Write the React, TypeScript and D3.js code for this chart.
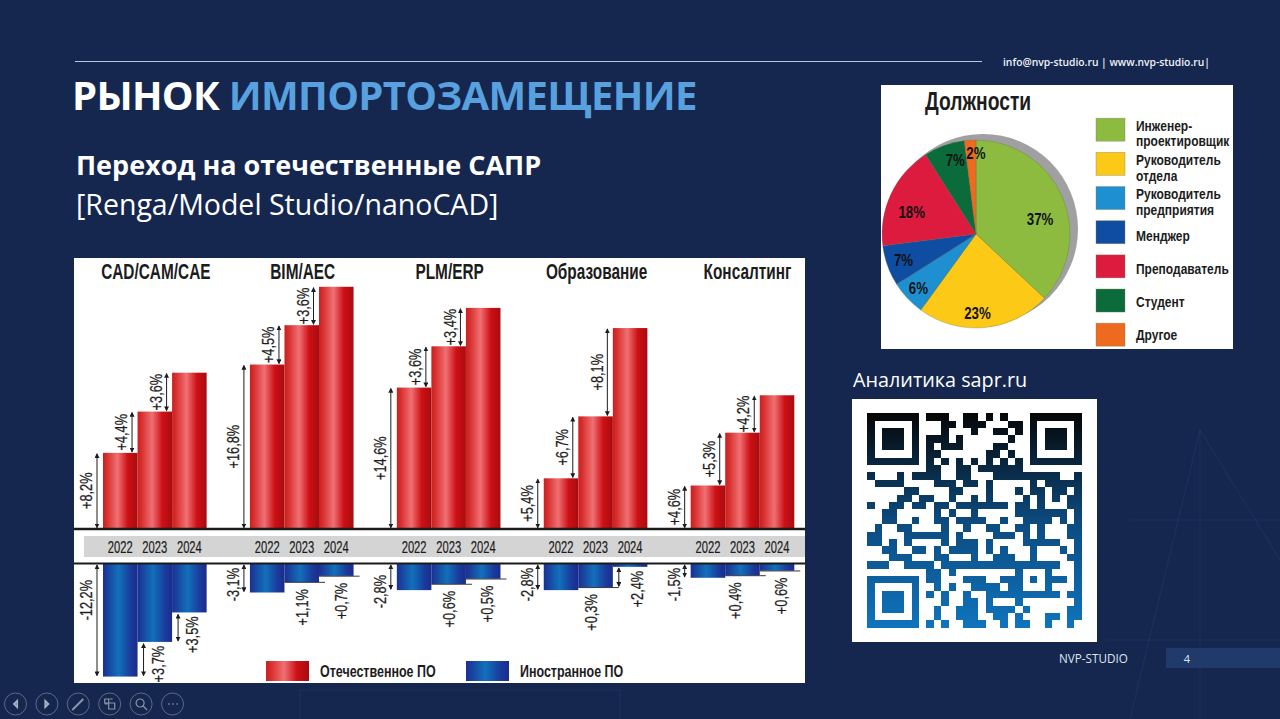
import { useEffect, useRef } from "react";
import * as d3 from "d3";

const categories = ["CAD/CAM/CAE", "BIM/AEC", "PLM/ERP", "Образование", "Консалтинг"];
const years = ["2022", "2023", "2024"];

// bar heights, % per year
const domesticValues = [
  [7.9, 12.2, 16.25],
  [17.1, 21.2, 25.2],
  [14.7, 19.0, 23.0],
  [5.25, 11.7, 20.9],
  [4.5, 10.0, 13.9],
];
const foreignValues = [
  [11.85, 8.2, 5.1],
  [3.0, 1.9, 1.25],
  [2.75, 2.1, 1.55],
  [2.75, 2.45, 0.3],
  [1.45, 1.2, 0.7],
];

const domesticLabels = [
  ["+8,2%", "+4,4%", "+3,6%"],
  ["+16,8%", "+4,5%", "+3,6%"],
  ["+14,6%", "+3,6%", "+3,4%"],
  ["+5,4%", "+6,7%", "+8,1%"],
  ["+4,6%", "+5,3%", "+4,2%"],
];
const foreignLabels = [
  ["-12,2%", "+3,7%", "+3,5%"],
  ["-3,1%", "+1,1%", "+0,7%"],
  ["-2,8%", "+0,6%", "+0,5%"],
  ["-2,8%", "+0,3%", "+2,4%"],
  ["-1,5%", "+0,4%", "+0,6%"],
];
// which foreign deltas get a double arrow, the rest get a hairline
const foreignArrows = [
  [true, true, true],
  [true, false, false],
  [true, false, false],
  [true, false, true],
  [true, false, false],
];

const roles = [
  ["Инженер-", "проектировщик"],
  ["Руководитель", "отдела"],
  ["Руководитель", "предприятия"],
  ["Менджер"],
  ["Преподаватель"],
  ["Студент"],
  ["Другое"],
];
const roleShares = [37, 23, 6, 7, 18, 7, 2];
const roleColors = ["#8cbb3f", "#fcc917", "#1e8fd0", "#0f4da2", "#dc1b3e", "#0b6b3a", "#ee6a1e"];

// dark runs [from, to] of the QR code per row, finder patterns are added in code
const qrRuns: number[][][] = [
  [[8, 10], [13, 14], [16, 16], [18, 18]],
  [[10, 11], [13, 15], [19, 20]],
  [[10, 10], [14, 14], [17, 18], [20, 20]],
  [[8, 10], [12, 12], [19, 19]],
  [[8, 8], [10, 12], [17, 18]],
  [[8, 9], [16, 17], [19, 19]],
  [[8, 8], [10, 10], [12, 12], [14, 14], [16, 16], [18, 18], [20, 20]],
  [[8, 9], [12, 13], [15, 20]],
  [[0, 0], [4, 4], [6, 9], [12, 13], [17, 25], [28, 28]],
  [[1, 4], [9, 11], [13, 14], [16, 16], [22, 22], [24, 28]],
  [[5, 6], [11, 12], [16, 16], [20, 20], [22, 23], [25, 26], [28, 28]],
  [[4, 5], [7, 8], [11, 11], [14, 14], [16, 16], [21, 21], [23, 23], [25, 25], [27, 28]],
  [[0, 0], [3, 4], [6, 7], [9, 10], [12, 18], [20, 21], [23, 23], [27, 28]],
  [[2, 3], [9, 9], [11, 11], [14, 14], [20, 26], [28, 28]],
  [[2, 3], [6, 6], [9, 10], [12, 15], [18, 18], [21, 24], [26, 26], [28, 28]],
  [[1, 1], [4, 5], [10, 10], [13, 13], [16, 17], [20, 21], [23, 23], [27, 28]],
  [[0, 1], [5, 10], [12, 12], [17, 19], [21, 21], [23, 23], [27, 28]],
  [[0, 1], [3, 3], [5, 5], [10, 10], [12, 14], [16, 16], [21, 25], [28, 28]],
  [[2, 3], [6, 7], [9, 9], [11, 14], [16, 16], [18, 18], [22, 22], [26, 26], [28, 28]],
  [[3, 5], [9, 10], [14, 14], [17, 19], [22, 22], [27, 28]],
  [[0, 2], [5, 8], [10, 25], [28, 28]],
  [[8, 9], [11, 11], [20, 20], [24, 24], [28, 28]],
  [[8, 9], [13, 15], [18, 20], [22, 22], [24, 26], [28, 28]],
  [[9, 9], [11, 11], [14, 17], [19, 20], [24, 24], [28, 28]],
  [[8, 8], [10, 10], [13, 13], [16, 25], [27, 28]],
  [[10, 10], [13, 14], [16, 16], [20, 20], [28, 28]],
  [[9, 9], [12, 14], [16, 19], [21, 21], [27, 28]],
  [[9, 9], [12, 14], [17, 18], [20, 20], [24, 25], [27, 28]],
  [[8, 8], [10, 10], [13, 15], [18, 18], [20, 21], [24, 24], [27, 27]],
];

const NARROW = "'Liberation Sans', sans-serif";
const SANS = "'Open Sans', sans-serif";
const INK = "#1c1c1c";

type Sel = d3.Selection<any, unknown, null, undefined>;

// no condensed face is installed, so squeeze a regular one horizontally
const squeezed = (parent: Sel, x: number, y: number, label: string, size: number, sx: number, bold = true, anchor = "start", rotate = false) =>
  parent.append("text")
    .attr("transform", `translate(${x},${y})${rotate ? " rotate(-90)" : ""} scale(${sx},1)`)
    .attr("text-anchor", anchor)
    .attr("dominant-baseline", "central")
    .attr("font-family", NARROW)
    .attr("font-size", size)
    .attr("font-weight", bold ? 700 : 400)
    .attr("fill", INK)
    .text(label);

const App = () => {
  const svgRef = useRef<SVGSVGElement>(null);

  useEffect(() => {
    if (!svgRef.current) return;
    document.body.style.margin = "0";
    document.body.style.background = "#14264f";

    const svg = d3.select(svgRef.current) as unknown as Sel;
    svg.selectAll("*").remove();
    const defs = svg.append("defs");

    const barGradient = (id: string, stops: [number, string][]) => {
      const g = defs.append("linearGradient").attr("id", id).attr("x1", "0%").attr("x2", "100%").attr("y1", "0%").attr("y2", "0%");
      stops.forEach(([o, c]) => g.append("stop").attr("offset", `${o}%`).attr("stop-color", c));
    };
    barGradient("red", [[0, "#c9201f"], [12, "#d8302f"], [42, "#f07073"], [72, "#cc1015"], [100, "#a80c10"]]);
    barGradient("blue", [[0, "#1b2f92"], [45, "#1270bb"], [80, "#1a3b9c"], [100, "#1a2c8c"]]);

    defs.append("marker").attr("id", "tip").attr("viewBox", "0 0 6 6").attr("refX", 5).attr("refY", 3)
      .attr("markerWidth", 5).attr("markerHeight", 5).attr("markerUnits", "userSpaceOnUse")
      .attr("orient", "auto-start-reverse")
      .append("path").attr("d", "M0,0L6,3L0,6Z").attr("fill", INK);

    const qrGrad = defs.append("linearGradient").attr("id", "qr").attr("gradientUnits", "userSpaceOnUse")
      .attr("x1", 0).attr("x2", 0).attr("y1", 413).attr("y2", 628);
    qrGrad.append("stop").attr("offset", "0%").attr("stop-color", "#060606");
    qrGrad.append("stop").attr("offset", "50%").attr("stop-color", "#0c4a7e");
    qrGrad.append("stop").attr("offset", "100%").attr("stop-color", "#0f74bd");

    // slide background
    svg.append("rect").attr("width", 1280).attr("height", 719).attr("fill", "#15274f");
    const deco = svg.append("g").attr("fill", "none").attr("stroke", "#3a5a90").attr("stroke-opacity", 0.14).attr("stroke-width", 1.5);
    ["M1130,719L1200,430L1280,560", "M1200,430L1200,719", "M1105,640L1280,640", "M1130,520L1280,520", "M300,719L300,690L620,690L620,719"]
      .forEach((d) => deco.append("path").attr("d", d));

    // header
    svg.append("line").attr("x1", 75).attr("x2", 982).attr("y1", 61.5).attr("y2", 61.5).attr("stroke", "#b9c7e2").attr("stroke-width", 1);
    svg.append("text").attr("x", 1003).attr("y", 66).attr("fill", "#eef2f8").attr("font-family", SANS).attr("font-size", 10.3).attr("font-weight", 600)
      .text("info@nvp-studio.ru | www.nvp-studio.ru|");

    const title = svg.append("text").attr("x", 72).attr("y", 109.5).attr("font-family", SANS).attr("font-size", 40).attr("font-weight", 700).attr("letter-spacing", -0.7);
    title.append("tspan").attr("fill", "#ffffff").text("РЫНОК ");
    title.append("tspan").attr("fill", "#58a0de").text("ИМПОРТОЗАМЕЩЕНИЕ");

    svg.append("text").attr("x", 76).attr("y", 175).attr("fill", "#fff").attr("font-family", SANS).attr("font-size", 27).attr("font-weight", 700)
      .text("Переход на отечественные САПР");
    svg.append("text").attr("x", 76).attr("y", 215).attr("fill", "#fff").attr("font-family", SANS).attr("font-size", 28.5)
      .text("[Renga/Model Studio/nanoCAD]");

    // bar chart panel
    const panel = svg.append("g");
    panel.append("rect").attr("x", 74).attr("y", 258).attr("width", 731).attr("height", 425).attr("fill", "#fff");
    panel.append("rect").attr("x", 84).attr("y", 536).attr("width", 721).attr("height", 21).attr("fill", "#d4d4d4");

    const xGroup = d3.scaleBand<string>().domain(categories).range([103, 794.3]).paddingInner(0.2946);
    const xYear = d3.scaleBand<string>().domain(years).range([0, xGroup.bandwidth()]);
    const barW = xYear.bandwidth();
    const yUp = d3.scaleLinear().domain([0, 25]).range([528.7, 288.7]);
    const yDown = d3.scaleLinear().domain([0, 12]).range([564, 678]);

    const vText = (x: number, y: number, label: string, anchor: string) =>
      squeezed(panel, x, y, label, 17, 0.75, false, anchor, true).attr("stroke", INK).attr("stroke-width", 0.25);
    const arrow = (x: number, y1: number, y2: number) =>
      panel.append("line").attr("x1", x).attr("x2", x).attr("y1", y1).attr("y2", y2).attr("stroke", INK).attr("stroke-width", 1)
        .attr("marker-start", "url(#tip)").attr("marker-end", "url(#tip)");

    categories.forEach((cat, c) => {
      const x0 = xGroup(cat) as number;
      squeezed(panel, x0 + xGroup.bandwidth() / 2 + (c === 4 ? 5 : 1), 271, cat, 22, 0.7, true, "middle");

      years.forEach((yr, i) => {
        const x = x0 + (xYear(yr) as number);
        // domestic
        panel.append("rect").attr("x", x).attr("y", yUp(domesticValues[c][i])).attr("width", barW)
          .attr("height", yUp(0) - yUp(domesticValues[c][i])).attr("fill", "url(#red)");
        const top = yUp(domesticValues[c][i]);
        const prev = i === 0 ? yUp(0) : yUp(domesticValues[c][i - 1]);
        const ax = i === 0 ? x - 6 : x - 5.5;
        arrow(ax, top + 1, prev - 1);
        vText(ax - 11, (top + prev) / 2, domesticLabels[c][i], "middle");

        // foreign
        const bottom = yDown(foreignValues[c][i]);
        panel.append("rect").attr("x", x).attr("y", yDown(0)).attr("width", barW).attr("height", bottom - yDown(0)).attr("fill", "url(#blue)");
        squeezed(panel, x + barW / 2, 547, yr, 16, 0.7, false, "middle").attr("stroke", INK).attr("stroke-width", 0.2);
      });

      years.forEach((yr, i) => {
        const x = x0 + (xYear(yr) as number);
        const bottom = yDown(foreignValues[c][i]);
        if (i === 0) {
          arrow(x - 6, yDown(0) + 1, bottom - 1);
          const drop = c === 0 ? 16 : c === 2 ? 11 : 4;
          vText(x - 17, yDown(0) + drop, foreignLabels[c][i], "end");
        } else if (foreignArrows[c][i]) {
          const prevBottom = yDown(foreignValues[c][i - 1]);
          const from = Math.min(bottom, prevBottom) + 2;
          const to = Math.max(bottom, prevBottom) - 1;
          arrow(x + 6, i === 2 && c === 3 ? yDown(0) + 4 : from, to);
          vText(x + (c === 3 ? 24 : 20), bottom + 4, foreignLabels[c][i], "end");
        } else {
          panel.append("line").attr("x1", x).attr("x2", x + barW + 6).attr("y1", bottom + 0.3).attr("y2", bottom + 0.3).attr("stroke", "#222").attr("stroke-width", 0.9);
          const nudge = i === 1 ? (c === 3 ? -5 : c === 4 ? -8 : 0) : 4;
          vText(x + barW / 2 + nudge, bottom + 7, foreignLabels[c][i], "end");
        }
      });
    });

    panel.append("line").attr("x1", 74).attr("x2", 805).attr("y1", 529).attr("y2", 529).attr("stroke", "#1a1a1a").attr("stroke-width", 2.4);
    panel.append("line").attr("x1", 74).attr("x2", 805).attr("y1", 563.5).attr("y2", 563.5).attr("stroke", "#1a1a1a").attr("stroke-width", 2);

    const legendItems: [number, string, string][] = [[266, "url(#red)", "Отечественное ПО"], [466, "url(#blue)", "Иностранное ПО"]];
    legendItems.forEach(([lx, fill, label]) => {
      panel.append("rect").attr("x", lx).attr("y", 661).attr("width", 43).attr("height", 20).attr("fill", fill);
      squeezed(panel, lx + 54, 671.5, label, 16, 0.78);
    });

    // pie panel
    const piePanel = svg.append("g");
    piePanel.append("rect").attr("x", 881).attr("y", 85).attr("width", 352).attr("height", 264).attr("fill", "#fff");
    squeezed(piePanel, 925, 102, "Должности", 25, 0.77);

    const cx = 976;
    const cy = 234;
    const r = 94;
    piePanel.append("circle").attr("cx", cx + 7).attr("cy", cy - 5).attr("r", r + 1).attr("fill", "#a0a0a2");
    const pie = d3.pie<number>().sort(null).value((d) => d);
    const arc = d3.arc<d3.PieArcDatum<number>>().innerRadius(0).outerRadius(r);
    const slices = pie(roleShares);
    const pieG = piePanel.append("g").attr("transform", `translate(${cx},${cy})`);
    slices.forEach((s, i) => {
      pieG.append("path").attr("d", arc(s) as string).attr("fill", roleColors[i]).attr("stroke", "#5a6a50").attr("stroke-opacity", 0.5).attr("stroke-width", 0.6);
    });
    const labelRadius = [0.72, 0.84, 0.84, 0.82, 0.78, 0.84, 0.87];
    const labelNudge = [[2, 12], [-6, 0], [0, 0], [0, 0], [2, 9], [6, 0], [5, 0]];
    slices.forEach((s, i) => {
      const lr = r * labelRadius[i];
      const [lx, ly] = d3.arc<d3.PieArcDatum<number>>().innerRadius(lr).outerRadius(lr).centroid(s);
      squeezed(pieG, lx + labelNudge[i][0], ly + labelNudge[i][1], `${roleShares[i]}%`, 17, 0.78, true, "middle").attr("fill", "#111");
    });

    const yRole = d3.scalePoint<number>().domain(d3.range(roles.length)).range([129.7, 334.7]);
    const roleDrop = [4, 4, 4, 4, 3, 1, 0];
    roles.forEach((lines, i) => {
      const yc = yRole(i) as number;
      piePanel.append("rect").attr("x", 1096).attr("y", yc - 11.5).attr("width", 29).attr("height", 23).attr("fill", roleColors[i])
        .attr("stroke", "#7a7a60").attr("stroke-opacity", 0.45).attr("stroke-width", 0.8);
      lines.forEach((line, j) => {
        squeezed(piePanel, 1136, yc + roleDrop[i] + (j - (lines.length - 1) / 2) * 15.5, line, 15, 0.8);
      });
    });

    // QR block
    svg.append("text").attr("x", 853).attr("y", 387).attr("fill", "#fff").attr("font-family", SANS).attr("font-size", 19.8).text("Аналитика sapr.ru");
    svg.append("rect").attr("x", 852).attr("y", 399).attr("width", 245).attr("height", 243).attr("fill", "#fff");
    const qrCell = d3.scaleBand<number>().domain(d3.range(29)).range([867.3, 1081.7]);
    const qrRow = d3.scaleBand<number>().domain(d3.range(29)).range([413.3, 627.7]);
    const qrG = svg.append("g").attr("fill", "url(#qr)").attr("shape-rendering", "crispEdges");
    const module = (col: number, row: number, w = 1, h = 1) =>
      qrG.append("rect").attr("x", qrCell(col) as number).attr("y", qrRow(row) as number)
        .attr("width", qrCell.bandwidth() * w).attr("height", qrRow.bandwidth() * h);
    qrRuns.forEach((runs, row) => runs.forEach(([a, b]) => module(a, row, b - a + 1)));
    [[0, 0], [22, 0], [0, 22]].forEach(([c, rw]) => {
      module(c, rw, 7, 1);
      module(c, rw + 6, 7, 1);
      module(c, rw + 1, 1, 5);
      module(c + 6, rw + 1, 1, 5);
      module(c + 2, rw + 2, 3, 3);
    });

    // footer
    svg.append("rect").attr("x", 1166).attr("y", 648).attr("width", 114).attr("height", 20).attr("fill", "#1f3a6b");
    svg.append("text").attr("x", 1059).attr("y", 663).attr("fill", "#dfe6f2").attr("font-family", SANS).attr("font-size", 11.7).text("NVP-STUDIO");
    svg.append("text").attr("x", 1187).attr("y", 663).attr("text-anchor", "middle").attr("fill", "#dfe6f2").attr("font-family", SANS).attr("font-size", 11).text("4");

    // slide show toolbar
    const icons = [
      "M-2,0L2,-4L2,4Z",
      "M2,0L-2,-4L-2,4Z",
      "M-6,6L5,-5",
      "M-5,-5h4v4h-4ZM0,-5h3M-5,0h3M-1,-1h6v6h-6Z",
      "M-1,-1m-4,0a4,4 0 1,0 8,0a4,4 0 1,0 -8,0M2,2L6,6",
      "M-4,0h1M0,0h1M4,0h1",
    ];
    const xIcon = d3.scalePoint<number>().domain(d3.range(icons.length)).range([15.5, 172.5]);
    icons.forEach((d, i) => {
      const t = svg.append("g").attr("transform", `translate(${xIcon(i)},704)`);
      t.append("circle").attr("r", 11).attr("fill", "none").attr("stroke", "#fff").attr("stroke-opacity", 0.3).attr("stroke-width", 1);
      t.append("path").attr("d", d).attr("fill", i < 2 ? "#fff" : "none").attr("fill-opacity", 0.5).attr("stroke", "#fff").attr("stroke-opacity", 0.5).attr("stroke-width", i === 2 ? 2 : i === 5 ? 2 : 1.2);
    });
  }, []);

  return <svg ref={svgRef} width={1280} height={719} style={{ display: "block", position: "absolute", left: 0, top: 0 }} />;
};

export default App;
